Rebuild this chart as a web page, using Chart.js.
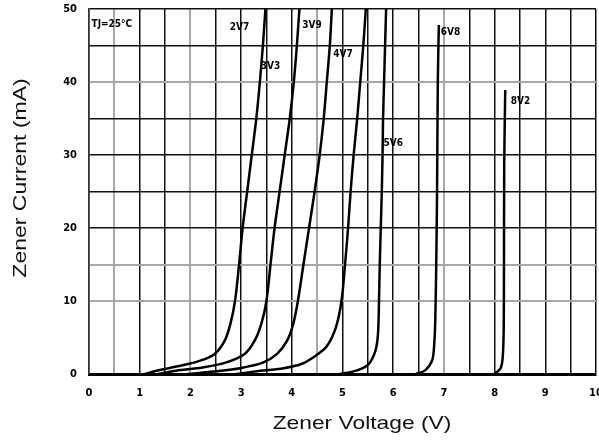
<!DOCTYPE html>
<html>
<head>
<meta charset="utf-8">
<script src="https://cdn.jsdelivr.net/npm/chart.js@4"></script>
<style>
  html, body { margin: 0; padding: 0; background: #fff; }
  #wrap { width: 599px; height: 441px; position: relative; }
</style>
</head>
<body>
<div id="wrap"><canvas id="zener"></canvas></div>
<script>
// ===== Data (voltage V, current mA) =====
const zener2V7 = [[1.1,0],[1.39,0.55],[1.78,1.1],[2.18,1.8],[2.48,2.75],[2.68,4.6],[2.79,6.9],[2.88,10],[2.96,15],[3.03,20],[3.12,25],[3.21,30],[3.3,35],[3.37,40],[3.43,45],[3.48,50]];
const zener3V3 = [[1.35,0],[1.72,0.45],[2.24,0.9],[2.71,1.6],[3.07,2.75],[3.27,4.6],[3.4,6.9],[3.5,10],[3.58,15],[3.66,20],[3.76,25],[3.86,30],[3.96,35],[4.04,40],[4.1,45],[4.15,50]];
const zener3V9 = [[1.95,0],[2.51,0.37],[2.98,0.8],[3.44,1.6],[3.71,2.75],[3.91,4.6],[4.03,6.9],[4.12,10],[4.23,15],[4.34,20],[4.45,25],[4.55,30],[4.63,35],[4.69,40],[4.75,45],[4.79,50]];
const zener4V7 = [[2.9,0],[3.31,0.37],[3.84,0.8],[4.2,1.4],[4.47,2.5],[4.69,3.8],[4.87,6.4],[4.98,10],[5.05,15],[5.11,20],[5.16,25],[5.22,30],[5.29,35],[5.35,40],[5.41,45],[5.46,50]];
const zener5V6 = [[4.95,0],[5.29,0.5],[5.52,1.4],[5.65,3.2],[5.7,5.5],[5.72,10],[5.735,15],[5.755,20],[5.775,25],[5.79,30],[5.8,35],[5.82,40],[5.84,45],[5.86,50]];
const zener6V8 = [[6.45,0],[6.63,0.5],[6.77,1.9],[6.81,4.2],[6.83,7.4],[6.85,15.6],[6.865,25],[6.88,40],[6.9,47.8]];
const zener8V2 = [[8.0,0],[8.12,0.8],[8.16,2.3],[8.18,6.4],[8.185,15.6],[8.19,29],[8.21,38.9]];

const curves = [zener2V7, zener3V3, zener3V9, zener4V7, zener5V6, zener6V8, zener8V2];

// curve labels: text, voltage, current
const labelText = ["TJ=25°C", "2V7", "3V9", "3V3", "4V7", "5V6", "6V8", "8V2"];
const labelV    = [0.05, 2.97, 4.4, 3.58, 5.01, 6.0, 7.13, 8.51];
const labelI    = [47.9, 47.5, 47.7, 42.2, 43.8, 31.6, 46.8, 37.3];

const xTitle = "Zener Voltage (V)";
const yTitle = "Zener Current (mA)";

/* ===== Styling helpers ===== */

// a few grid lines come out lighter in the scanned original
const lightV = [0.5, 2, 4.5, 7];
const lightI = [10, 15, 40];

const tickFont = { family: "'Liberation Sans Narrow', 'DejaVu Sans Condensed', sans-serif", size: 11, weight: "bold" };

const labelsPlugin = {
  id: "zenerLabels",
  afterDraw(chart) {
    const ctx = chart.ctx;
    const xs = chart.scales.x, ys = chart.scales.y;

    ctx.save();
    ctx.fillStyle = "#000";
    ctx.font = "bold 10px 'Liberation Sans Narrow', 'DejaVu Sans Condensed', sans-serif";
    ctx.textBaseline = "middle";
    labelText.forEach((t, i) => {
      ctx.textAlign = i === 0 ? "left" : "center";
      ctx.fillText(t, xs.getPixelForValue(labelV[i]), ys.getPixelForValue(labelI[i]));
    });

    // axis titles (slightly stretched like the original)
    ctx.fillStyle = "#111";
    ctx.font = "19px 'Liberation Sans', Arial, sans-serif";
    ctx.textAlign = "center";

    ctx.save();
    ctx.translate(362, 424);
    ctx.scale(1.2, 1);
    ctx.fillText(xTitle, 0, 0);
    ctx.restore();

    ctx.save();
    ctx.translate(21, 178);
    ctx.rotate(-Math.PI / 2);
    ctx.scale(1.21, 1);
    ctx.fillText(yTitle, 0, 0);
    ctx.restore();

    ctx.restore();
  }
};

new Chart(document.getElementById("zener"), {
  type: "scatter",
  data: {
    datasets: curves.map(c => ({
      data: c.map(p => ({ x: p[0], y: p[1] })),
      showLine: true,
      borderColor: "#000",
      borderWidth: 2.5,
      pointRadius: 0,
      tension: 0.3,
      fill: false
    }))
  },
  options: {
    responsive: true,
    maintainAspectRatio: false,
    animation: false,
    layout: { padding: { left: 0, right: 3, top: 9, bottom: 0 } },
    plugins: {
      legend: { display: false },
      tooltip: { enabled: false }
    },
    scales: {
      x: {
        type: "linear",
        min: 0,
        max: 10,
        border: { color: "#000", width: 3 },
        grid: {
          drawTicks: false,
          lineWidth: c => lightV.includes(c.tick.value) ? 2 : 1.5,
          color: c => lightV.includes(c.tick.value) ? "#a8a8a8" : "#111"
        },
        ticks: {
          stepSize: 0.5,
          autoSkip: false,
          maxRotation: 0,
          padding: 13,
          color: "#000",
          font: tickFont,
          callback: v => (v % 1 === 0 ? v : "")
        },
        afterFit(scale) {
          scale.height = 67;
          scale.paddingLeft = 0;
          scale.paddingRight = 0;
        }
      },
      y: {
        type: "linear",
        min: 0,
        max: 50,
        border: { color: "#333", width: 1.5 },
        grid: {
          drawTicks: false,
          lineWidth: c => lightI.includes(c.tick.value) ? 2 : 1.5,
          color: c => {
            if (c.tick.value === 5) return "rgba(0,0,0,0)";
            return lightI.includes(c.tick.value) ? "#a8a8a8" : "#111";
          }
        },
        ticks: {
          stepSize: 5,
          autoSkip: false,
          padding: 12,
          color: "#000",
          font: tickFont,
          callback: v => (v % 10 === 0 ? v : "")
        },
        afterFit(scale) {
          scale.width = 89;
          scale.paddingTop = 0;
          scale.paddingBottom = 0;
        }
      }
    }
  },
  plugins: [labelsPlugin]
});
</script>
</body>
</html>
